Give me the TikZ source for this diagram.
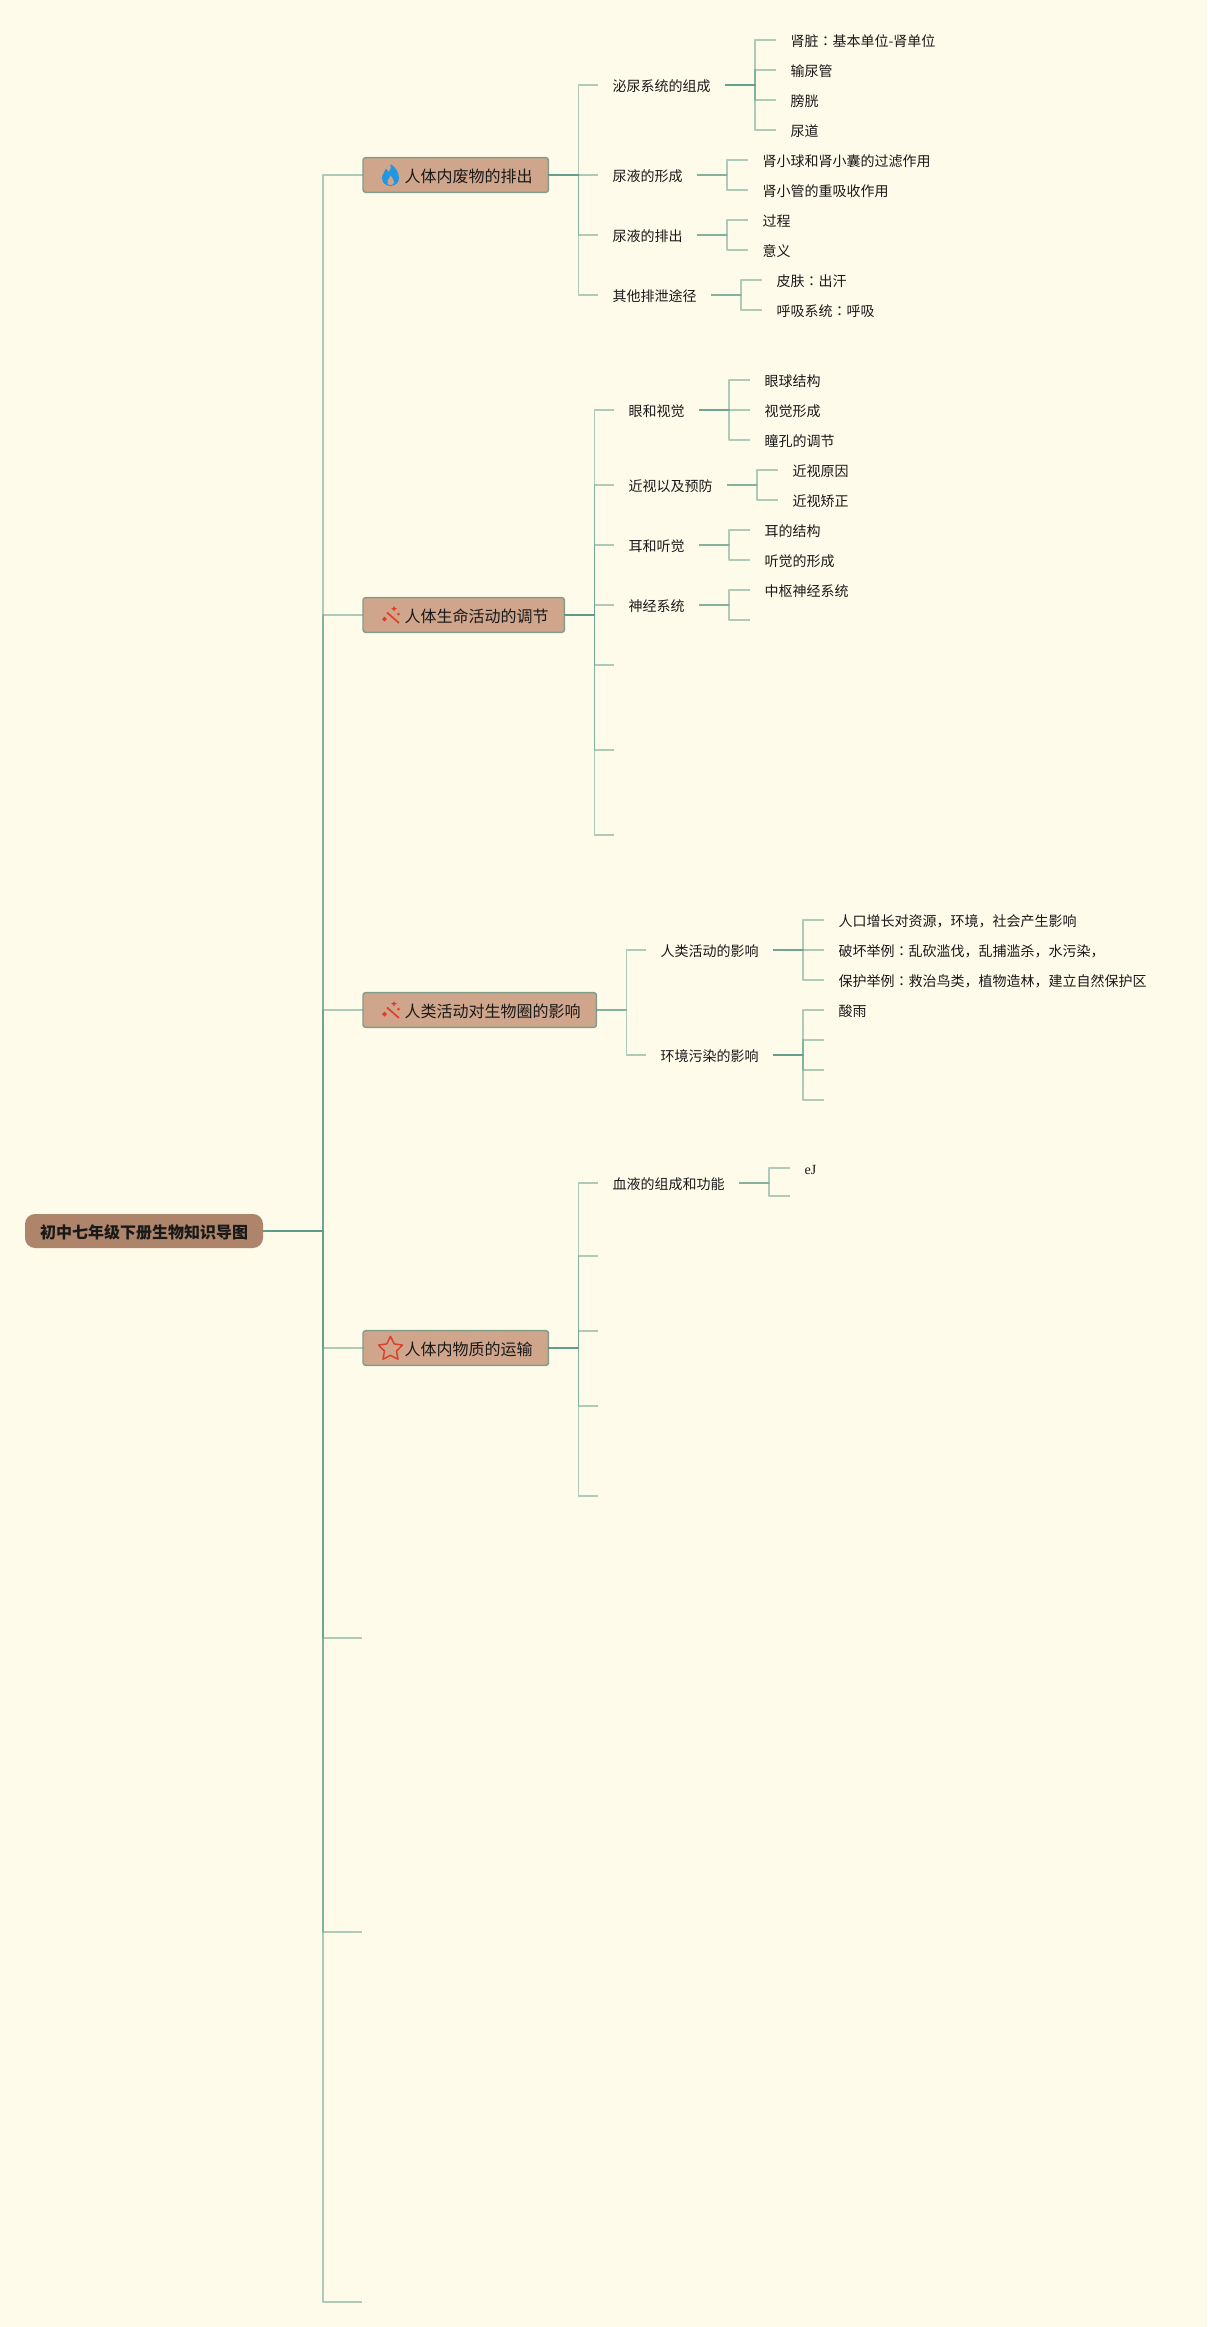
\documentclass[tikz,border=0pt]{standalone}
\usepackage{fontspec}
\usetikzlibrary{shapes.geometric}
\setmainfont{Noto Sans CJK SC}
\newfontfamily\serifpart{Liberation Serif}
\newfontfamily\colonpart{Noto Sans CJK TC}
\newcommand{\midcolon}{{\colonpart：}}
\definecolor{pagebg}{HTML}{FFFBEA}
\definecolor{rootfill}{HTML}{AE846A}
\definecolor{topicfill}{HTML}{CFA68C}
\definecolor{branchline}{HTML}{5E9A88}
\definecolor{flameblue}{HTML}{2196E3}
\definecolor{wandred}{HTML}{DE3F28}
\tikzset{
	rootnode/.style={
		shape=rectangle,
		anchor=west,
		fill=rootfill,
		text=black!90,
		rounded corners=7.5pt,
		outer sep=0pt,
		minimum width=178.5pt,
		minimum height=25.5pt,
		text height=12pt,
		text depth=1pt,
		font=\fontsize{12pt}{14pt}\selectfont\bfseries
	},
	topic/.style={
		shape=rectangle,
		anchor=west,
		fill=topicfill,
		text=black!90,
		draw=branchline!70!topicfill,
		line width=1.1pt,
		rounded corners=2pt,
		outer sep=0pt,
		minimum height=26pt,
		inner xsep=11.8pt,
		text height=12.4pt,
		text depth=1pt,
		font=\fontsize{12pt}{14pt}\selectfont
	},
	leaf/.style={
		shape=rectangle,
		anchor=west,
		text=black!90,
		inner xsep=10.9pt,
		inner ysep=0pt,
		outer sep=0pt,
		text height=11.4pt,
		text depth=1pt,
		font=\fontsize{10.5pt}{12pt}\selectfont
	},
	branch/.style={
		draw=branchline,
		draw opacity=.5,
		line width=1.35pt,
		line join=round,
		to path={-- ++(#1,0) |- (\tikztotarget)}
	},
	iconflame/.pic={
		\fill[flameblue] (0,11) .. controls (-5,11) and (-8.5,7.5) .. (-8.5,3)
			.. controls (-8.5,-1) and (-5.5,-3) .. (-4.5,-6.5)
			.. controls (-3,-5.5) and (-2.5,-4.5) .. (-2,-3)
			.. controls (0.5,-5.5) and (1,-8.5) .. (0,-11)
			.. controls (4,-9) and (8.5,-3) .. (8.5,3)
			.. controls (8.5,7.5) and (5,11) .. (0,11) -- cycle;
		\fill[topicfill] (0,10) .. controls (-3,10) and (-4,7.5) .. (-3,5.5)
			.. controls (-2,4) and (-0.5,3) .. (0,0.5)
			.. controls (1.5,3) and (4,5) .. (3.5,7.5)
			.. controls (3,9.5) and (1.5,10) .. (0,10) -- cycle;
	},
	iconwand/.pic={
		\draw[wandred,line width=1.3pt] (-4,-2.5) -- (8,8);
		\fill[wandred] (-9,4) -- (-6.5,1.5) -- (-4,4) -- (-6.5,6.5) -- cycle;
		\fill[wandred] (3,-9) -- (4,-7) -- (6,-6.5) -- (4,-5.5) -- (3,-3.5) -- (2,-5.5) -- (0,-6.5) -- (2,-7) -- cycle;
		\fill[wandred] (7.5,-2.5) -- (9,-1) -- (7.5,0.5) -- (6,-1) -- cycle;
	}
}
\begin{document}
\begin{tikzpicture}[x=0.75pt,y=-0.75pt]
	\useasboundingbox (0,0) rectangle (1207,2327);
	\fill[pagebg] (0,0) rectangle (1207,2327);

	\node[rootnode,align=center] (root) at (25,1231) {初中七年级下册生物知识导图};

	\node[topic] (waste) at (363,175) {\hspace*{19.5pt}人体内废物的排出};
	\node[topic] (nerve) at (363,615) {\hspace*{19.5pt}人体生命活动的调节};
	\node[topic] (human) at (363,1010) {\hspace*{19.5pt}人类活动对生物圈的影响};
	\node[topic] (blood) at (363,1348) {\hspace*{19.5pt}人体内物质的运输};
	\coordinate (blank1) at (362,1638);
	\coordinate (blank2) at (362,1932);
	\coordinate (blank3) at (362,2302);

	\pic at (390.5,175) {iconflame};
	\pic at (391,615) {iconwand};
	\pic at (391,1010) {iconwand};
	\node[star,star points=5,star point ratio=2,draw=wandred,line width=1.1pt,line join=round,inner sep=0pt,minimum size=19pt] (bloodstar) at (390.5,1349) {};

	\node[leaf] (urinary) at (598,85) {泌尿系统的组成};
	\node[leaf] (forming) at (598,175) {尿液的形成};
	\node[leaf] (passing) at (598,235) {尿液的排出};
	\node[leaf] (othery) at (598,295) {其他排泄途径};
	\node[leaf] (kidney) at (776,40) {肾脏\midcolon 基本单位-肾单位};
	\node[leaf] (ureter) at (776,70) {输尿管};
	\node[leaf] (bladder) at (776,100) {膀胱};
	\node[leaf] (urethra) at (776,130) {尿道};
	\node[leaf] (filter) at (748,160) {肾小球和肾小囊的过滤作用};
	\node[leaf] (reabsorb) at (748,190) {肾小管的重吸收作用};
	\node[leaf] (process) at (748,220) {过程};
	\node[leaf] (meaning) at (748,250) {意义};
	\node[leaf] (skin) at (762,280) {皮肤\midcolon 出汗};
	\node[leaf] (breath) at (762,310) {呼吸系统\midcolon 呼吸};

	\node[leaf] (eye) at (614,410) {眼和视觉};
	\node[leaf] (myopia) at (614,485) {近视以及预防};
	\node[leaf] (ear) at (614,545) {耳和听觉};
	\node[leaf] (nervous) at (614,605) {神经系统};
	\coordinate (nerveblank1) at (614,665);
	\coordinate (nerveblank2) at (614,750);
	\coordinate (nerveblank3) at (614,835);
	\node[leaf] (eyeball) at (750,380) {眼球结构};
	\node[leaf] (vision) at (750,410) {视觉形成};
	\node[leaf] (pupil) at (750,440) {瞳孔的调节};
	\node[leaf] (cause) at (778,470) {近视原因};
	\node[leaf] (correct) at (778,500) {近视矫正};
	\node[leaf] (earpart) at (750,530) {耳的结构};
	\node[leaf] (hearing) at (750,560) {听觉的形成};
	\node[leaf] (central) at (750,590) {中枢神经系统};
	\coordinate (nervousblank) at (750,620);

	\node[leaf] (activity) at (646,950) {人类活动的影响};
	\node[leaf] (pollution) at (646,1055) {环境污染的影响};
	\node[leaf] (people) at (824,920) {人口增长对资源，环境，社会产生影响};
	\node[leaf] (damage) at (824,950) {破坏举例\midcolon 乱砍滥伐，乱捕滥杀，水污染，};
	\node[leaf] (protect) at (824,980) {保护举例\midcolon 救治鸟类，植物造林，建立自然保护区};
	\node[leaf] (acidrain) at (824,1010) {酸雨};
	\coordinate (pollutblank1) at (824,1040);
	\coordinate (pollutblank2) at (824,1070);
	\coordinate (pollutblank3) at (824,1100);

	\node[leaf] (plasma) at (598,1183) {血液的组成和功能};
	\coordinate (bloodblank1) at (598,1256);
	\coordinate (bloodblank2) at (598,1331);
	\coordinate (bloodblank3) at (598,1406);
	\coordinate (bloodblank4) at (598,1496);
	\node[leaf,text height=10.5pt,font=\fontsize{10.5pt}{12pt}\serifpart] (ej) at (790,1168) {eJ};
	\coordinate (plasmablank) at (790,1196);

	\draw[branch=60] (root.east) to (waste.west);
	\draw[branch=60] (root.east) to (nerve.west);
	\draw[branch=60] (root.east) to (human.west);
	\draw[branch=60] (root.east) to (blood.west);
	\draw[branch=60] (root.east) to (blank1);
	\draw[branch=60] (root.east) to (blank2);
	\draw[branch=60] (root.east) to (blank3);

	\draw[branch=30] (waste.east) to (urinary.west);
	\draw[branch=30] (waste.east) to (forming.west);
	\draw[branch=30] (waste.east) to (passing.west);
	\draw[branch=30] (waste.east) to (othery.west);
	\draw[branch=30] (urinary.east) to (kidney.west);
	\draw[branch=30] (urinary.east) to (ureter.west);
	\draw[branch=30] (urinary.east) to (bladder.west);
	\draw[branch=30] (urinary.east) to (urethra.west);
	\draw[branch=30] (forming.east) to (filter.west);
	\draw[branch=30] (forming.east) to (reabsorb.west);
	\draw[branch=30] (passing.east) to (process.west);
	\draw[branch=30] (passing.east) to (meaning.west);
	\draw[branch=30] (othery.east) to (skin.west);
	\draw[branch=30] (othery.east) to (breath.west);

	\draw[branch=30] (nerve.east) to (eye.west);
	\draw[branch=30] (nerve.east) to (myopia.west);
	\draw[branch=30] (nerve.east) to (ear.west);
	\draw[branch=30] (nerve.east) to (nervous.west);
	\draw[branch=30] (nerve.east) to (nerveblank1);
	\draw[branch=30] (nerve.east) to (nerveblank2);
	\draw[branch=30] (nerve.east) to (nerveblank3);
	\draw[branch=30] (eye.east) to (eyeball.west);
	\draw[branch=30] (eye.east) to (vision.west);
	\draw[branch=30] (eye.east) to (pupil.west);
	\draw[branch=30] (myopia.east) to (cause.west);
	\draw[branch=30] (myopia.east) to (correct.west);
	\draw[branch=30] (ear.east) to (earpart.west);
	\draw[branch=30] (ear.east) to (hearing.west);
	\draw[branch=30] (nervous.east) to (central.west);
	\draw[branch=30] (nervous.east) to (nervousblank);

	\draw[branch=30] (human.east) to (activity.west);
	\draw[branch=30] (human.east) to (pollution.west);
	\draw[branch=30] (activity.east) to (people.west);
	\draw[branch=30] (activity.east) to (damage.west);
	\draw[branch=30] (activity.east) to (protect.west);
	\draw[branch=30] (pollution.east) to (acidrain.west);
	\draw[branch=30] (pollution.east) to (pollutblank1);
	\draw[branch=30] (pollution.east) to (pollutblank2);
	\draw[branch=30] (pollution.east) to (pollutblank3);

	\draw[branch=30] (blood.east) to (plasma.west);
	\draw[branch=30] (blood.east) to (bloodblank1);
	\draw[branch=30] (blood.east) to (bloodblank2);
	\draw[branch=30] (blood.east) to (bloodblank3);
	\draw[branch=30] (blood.east) to (bloodblank4);
	\draw[branch=30] (plasma.east) to (ej.west);
	\draw[branch=30] (plasma.east) to (plasmablank);
\end{tikzpicture}
\end{document}
